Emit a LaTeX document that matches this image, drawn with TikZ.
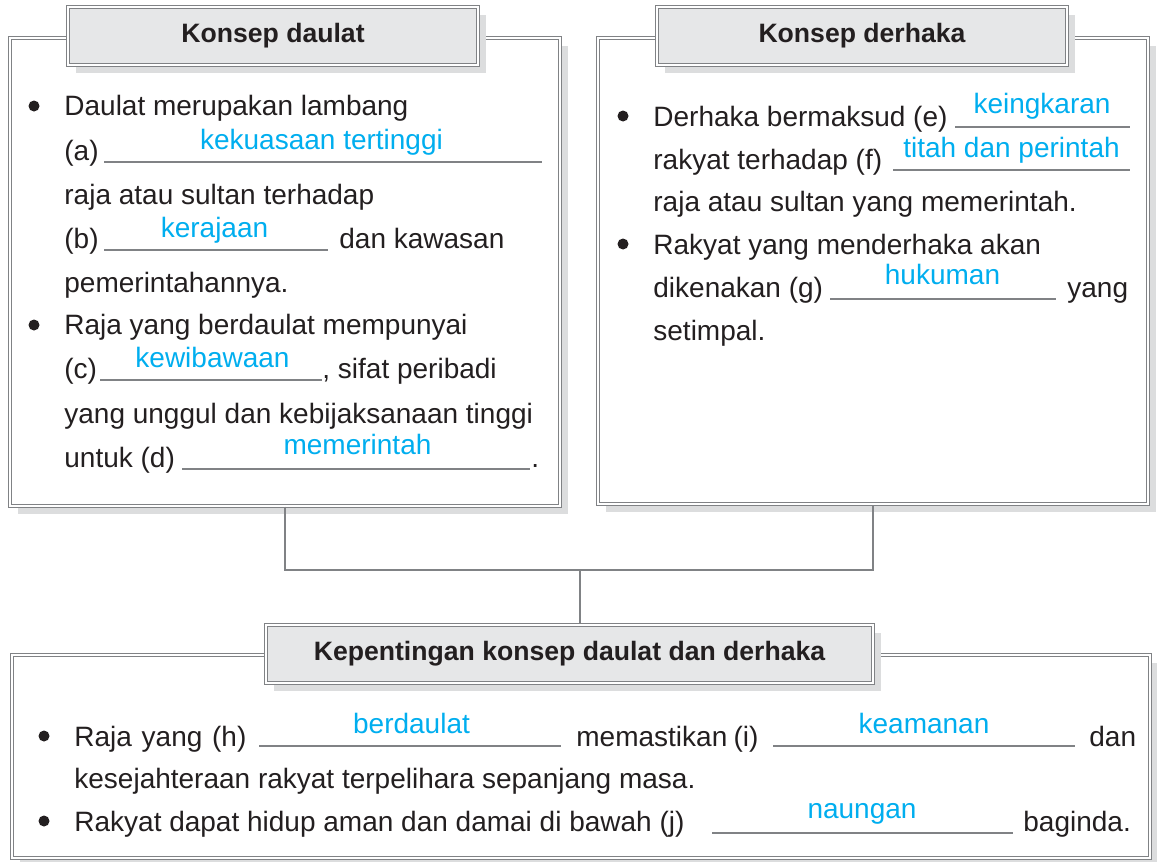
\documentclass[tikz,border=0pt]{standalone}
\usepackage{fontspec}
\setmainfont{Liberation Sans}
\usetikzlibrary{shadows}

\definecolor{linegray}{RGB}{128,130,133}
\definecolor{shadegray}{RGB}{220,221,222}
\definecolor{headfill}{RGB}{230,231,232}
\definecolor{ansblue}{RGB}{0,174,239}
\definecolor{ink}{RGB}{35,31,32}

\newcommand{\bodyfont}{\fontsize{14}{17}\selectfont}
\newcommand{\headfont}{\fontsize{13.3}{16}\selectfont\bfseries}

\tikzset{
  panel/.style={rectangle, draw=linegray, line width=0.7pt, double=white,
    double distance=0.8pt, fill=white, inner sep=0pt,
    drop shadow={shadow xshift=4pt, shadow yshift=-4pt, fill=shadegray, opacity=1}},
  head/.style={panel, fill=headfill, minimum height=29pt, font=\headfont, text=ink},
  txt/.style={anchor=base west, inner sep=0pt, font=\bodyfont, text=ink},
  ans/.style={anchor=base, inner sep=0pt, font=\bodyfont, text=ansblue},
  blank/.style={draw=linegray, line width=0.7pt},
  link/.style={draw=linegray, line width=1.1pt}
}

\begin{document}
\begin{tikzpicture}[x=0.5pt,y=-0.5pt]
\useasboundingbox (0,0) rectangle (1157,862);

% boxes
\node[panel, minimum width=275pt, minimum height=234pt] (lbox) at (285,272) {};
\node[panel, minimum width=275pt, minimum height=233pt] (rbox) at (873,271) {};
\node[panel, minimum width=569pt, minimum height=101.5pt] (bbox) at (581,756.5) {};

% headings
\node[head, minimum width=205pt] (ltitle) at (273,36) {Konsep daulat};
\node[head, minimum width=205pt] (rtitle) at (862,36) {Konsep derhaka};

% links
\coordinate (junc) at (580,570);
\draw[link] (lbox.south) |- (junc) -| (rbox.south);
\draw[link] (junc) -- (junc |- 0,626);
\node[head, minimum width=303.5pt] (btitle) at (569.5,654) {Kepentingan konsep daulat dan derhaka};

% left box
\fill[ink] (34,106) circle (5.5);
\node[txt] (la1) at (64,115) {Daulat merupakan lambang};
\node[txt] (la2) at (64,160) {(a)};
\draw[blank] (104,162) -- (542,162);
\node[ans] (ansa) at (321.5,149) {kekuasaan tertinggi};
\node[txt] (la3) at (64,204) {raja atau sultan terhadap};
\node[txt] (la4) at (64,248) {(b)};
\draw[blank] (104,250) -- (328,250);
\node[ans] (ansb) at (214.5,237) {kerajaan};
\node[txt] (la5) at (339,248) {dan kawasan};
\node[txt] (la6) at (64,292) {pemerintahannya.};
\fill[ink] (34,325) circle (5.5);
\node[txt] (lb1) at (64,334) {Raja yang berdaulat mempunyai};
\node[txt] (lb2) at (64,378) {(c)};
\draw[blank] (100,380) -- (322,380);
\node[ans] (ansc) at (212.5,367) {kewibawaan};
\node[txt] (lb3) at (322,378) {, sifat peribadi};
\node[txt] (lb4) at (64,423) {yang unggul dan kebijaksanaan tinggi};
\node[txt] (lb5) at (64,467) {untuk (d)};
\draw[blank] (182,469) -- (530,469);
\node[ans] (ansd) at (357.5,454) {memerintah};
\node[txt] (lb6) at (531,467) {.};

% right box
\fill[ink] (623,116) circle (5.5);
\node[txt] (ra1) at (653,126) {Derhaka bermaksud (e)};
\draw[blank] (955,127) -- (1130,127);
\node[ans] (anse) at (1042,113) {keingkaran};
\node[txt] (ra2) at (653,169) {rakyat terhadap (f)};
\draw[blank] (893,170) -- (1130,170);
\node[ans] (ansf) at (1011.5,157) {titah dan perintah};
\node[txt] (ra3) at (653,211) {raja atau sultan yang memerintah.};
\fill[ink] (623,244) circle (5.5);
\node[txt] (rb1) at (653,254) {Rakyat yang menderhaka akan};
\node[txt] (rb2) at (653,297) {dikenakan (g)};
\draw[blank] (830,299) -- (1056,299);
\node[ans] (ansg) at (942.5,284) {hukuman};
\node[txt] (rb3) at (1067,297) {yang};
\node[txt] (rb4) at (653,340) {setimpal.};

% bottom box
\fill[ink] (44,736) circle (5.5);
\node[txt] (ba1) at (74,746) {\makebox[86pt][s]{Raja yang (h)}};
\draw[blank] (259,746) -- (561,746);
\node[ans] (ansh) at (411.5,733) {berdaulat};
\node[txt] (ba2) at (576,746) {\makebox[91pt][s]{memastikan (i)}};
\draw[blank] (773,746) -- (1075,746);
\node[ans] (ansi) at (924,733) {keamanan};
\node[txt] (ba3) at (1089,746) {dan};
\node[txt] (ba4) at (74,788) {kesejahteraan rakyat terpelihara sepanjang masa.};
\fill[ink] (44,821) circle (5.5);
\node[txt] (bb1) at (74,831) {Rakyat dapat hidup aman dan damai di bawah (j)};
\draw[blank] (712,833) -- (1013,833);
\node[ans] (ansj) at (862,818) {naungan};
\node[txt] (bb2) at (1023,831) {baginda.};
\end{tikzpicture}
\end{document}
